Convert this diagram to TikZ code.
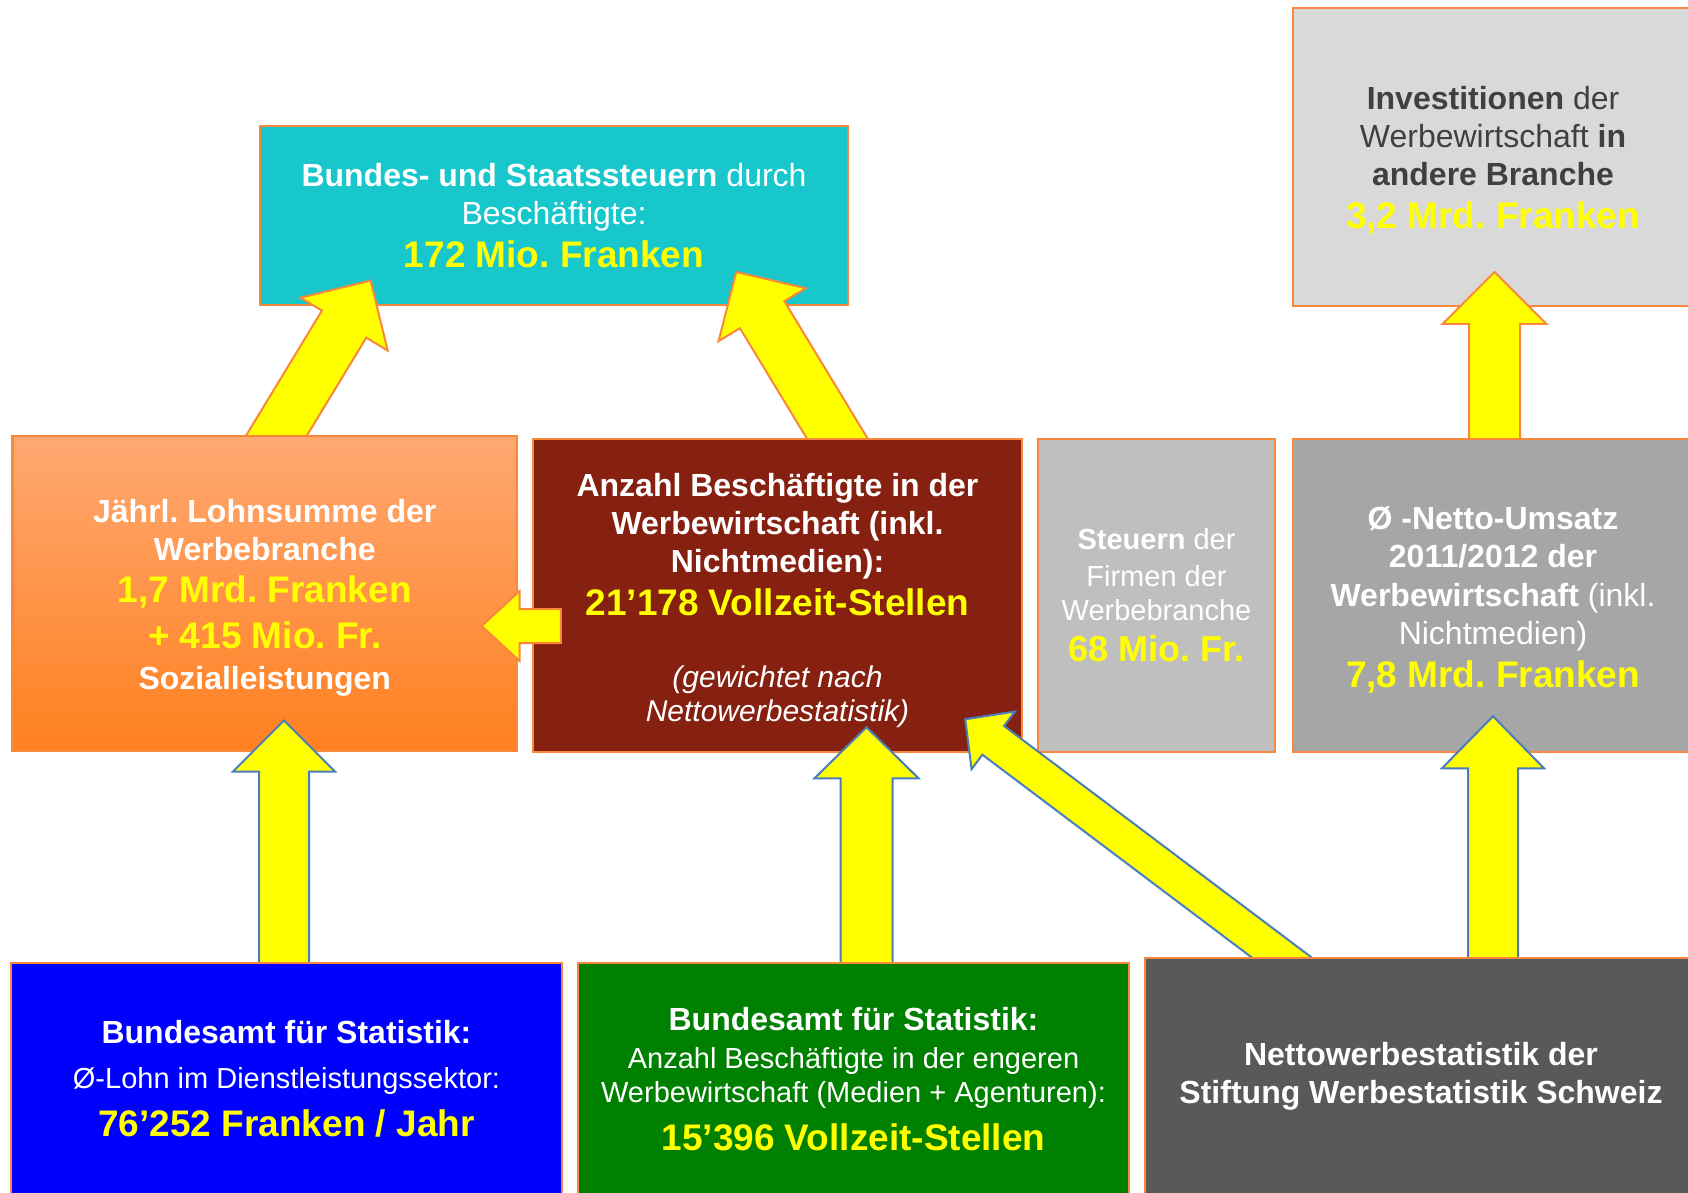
\documentclass[tikz,border=0pt]{standalone}
\usepackage{fontspec}
\setmainfont{Liberation Sans}
\usetikzlibrary{calc}
\frenchspacing
\definecolor{boxline}{HTML}{F7883C}
\definecolor{yel}{HTML}{FFFF00}
\definecolor{arrowline}{HTML}{4A7EBB}
\definecolor{steuercol}{HTML}{17C7CC}
\definecolor{investcol}{HTML}{D9D9D9}
\definecolor{investtext}{HTML}{404040}
\definecolor{lohntop}{HTML}{FFA872}
\definecolor{lohnbot}{HTML}{FF801F}
\definecolor{anzahlcol}{HTML}{862010}
\definecolor{firmencol}{HTML}{BFBFBF}
\definecolor{umsatzcol}{HTML}{A6A6A6}
\definecolor{bfsblue}{HTML}{0000FF}
\definecolor{bfsgreen}{HTML}{008000}
\definecolor{nettocol}{HTML}{595959}
\pgfdeclarelayer{back}
\pgfdeclarelayer{upper}
\pgfdeclarelayer{lower}
\pgfdeclarelayer{front}
\pgfsetlayers{back,upper,main,lower,front}
\newcommand{\amount}[2][37]{{\color{yel}\bfseries\fontsize{#1}{44}\selectfont #2}}
\newcommand{\topgap}[1]{\rule{0pt}{#1}}
\newcommand{\bigarrow}[6]{%
  \coordinate (hb) at ($(#3)!#6!(#2)$);
  \path[#1] ($(#2)!#4!90:(#3)$) -- ($(hb)!#4!90:(#3)$) -- ($(hb)!#5!90:(#3)$) -- (#3)
    -- ($(hb)!#5!-90:(#3)$) -- ($(hb)!#4!-90:(#3)$) -- ($(#2)!#4!-90:(#3)$) -- cycle;}
\begin{document}
\begin{tikzpicture}[x=1pt, y=-1pt,
    box/.style = {draw=boxline, line width=2.5pt, inner sep=0pt,
      align=center, text=white, font=\fontsize{32}{38}\selectfont},
    boldbox/.style = {box, font=\fontsize{32}{38}\selectfont\bfseries},
    orangearrow/.style = {fill=yel, draw=boxline, line width=2pt},
    bluearrow/.style = {fill=yel, draw=arrowline, line width=2pt}]
  \useasboundingbox (0,0) rectangle (1688,1192);
  \begin{pgfonlayer}{back}
    \node[box, fill=steuercol, minimum width=588pt, minimum height=179pt] (steuer) at (554,215.5)
      {{\bfseries Bundes- und Staatssteuern} durch\\ Beschäftigte:\\[5pt] \amount{172 Mio. Franken}};
    \node[box, fill=investcol, text=investtext, minimum width=400pt, minimum height=298pt] (invest) at (1493,157)
      {\topgap{30.5pt}{\bfseries Investitionen} der\\ Werbewirtschaft {\bfseries in}\\ {\bfseries andere Branche}\\[5pt] \amount{3,2 Mrd. Franken}};
  \end{pgfonlayer}
  \node[boldbox, top color=lohntop, bottom color=lohnbot, minimum width=504.5pt, minimum height=315pt] (lohn) at (264.75,593.5)
    {\topgap{31pt}Jährl. Lohnsumme der\\ Werbebranche\\[4pt] \amount{1,7 Mrd. Franken}\\[8pt] \amount{+ 415 Mio. Fr.}\\[3pt] Sozialleistungen};
  \node[boldbox, fill=anzahlcol, minimum width=489pt, minimum height=313pt] (anzahl) at (777.5,595.5)
    {\topgap{34pt}Anzahl Beschäftigte in der\\ Werbewirtschaft (inkl.\\ Nichtmedien):\\[5pt] \amount{21’178 Vollzeit-Stellen}\\[34pt]
     {\mdseries\itshape\fontsize{30}{36}\selectfont (gewichtet nach}\\[-4pt] {\mdseries\itshape\fontsize{30}{36}\selectfont Nettowerbestatistik)}};
  \node[box, fill=firmencol, font=\fontsize{29}{35}\selectfont, minimum width=237pt, minimum height=313pt] (firmen) at (1156.5,595.5)
    {{\bfseries Steuern} der\\[2pt] Firmen der\\[-1pt] Werbebranche\\[6pt] \amount[36]{68 Mio. Fr.}};
  \node[box, fill=umsatzcol, font=\fontsize{32}{38.5}\selectfont, minimum width=400pt, minimum height=313pt] (umsatz) at (1493,595.5)
    {\topgap{31.5pt}{\bfseries Ø -Netto-Umsatz}\\ {\bfseries 2011/2012 der}\\ {\bfseries Werbewirtschaft} (inkl.\\ Nichtmedien)\\[4pt] \amount{7,8 Mrd. Franken}};
  \begin{pgfonlayer}{front}
    \node[box, fill=bfsblue, minimum width=551pt, minimum height=232pt] (bfslohn) at (286.5,1079)
      {{\bfseries Bundesamt für Statistik:}\\[7pt] {\fontsize{29}{35}\selectfont Ø-Lohn im Dienstleistungssektor:}\\[10pt] \amount{76’252 Franken / Jahr}};
    \node[box, fill=bfsgreen, minimum width=551pt, minimum height=232pt] (bfsstellen) at (853.5,1079)
      {{\bfseries Bundesamt für Statistik:}\\ {\fontsize{29}{35}\selectfont Anzahl Beschäftigte in der engeren}\\[-3.5pt]
       {\fontsize{29}{35}\selectfont Werbewirtschaft (Medien + Agenturen):}\\[9.5pt] \amount{15’396 Vollzeit-Stellen}};
    \node[boldbox, fill=nettocol, minimum width=552pt, minimum height=237pt] (netto) at (1421,1076.5)
      {Nettowerbestatistik der\\ Stiftung Werbestatistik Schweiz};
  \end{pgfonlayer}
  \begin{pgfonlayer}{upper}
    \coordinate (lohn-up) at ($(lohn.north)+(-6,30)$);
    \coordinate (steuer-l) at ($(steuer.south)+(-183.4,-25.7)$);
    \coordinate (anzahl-up) at ($(anzahl.north)+(77.5,30)$);
    \coordinate (steuer-r) at ($(steuer.south)+(182.2,-34.3)$);
    \coordinate (umsatz-up) at ($(umsatz.north)+(1.5,30)$);
    \coordinate (invest-in) at ($(invest.south)+(1.5,-35.3)$);
    \bigarrow{orangearrow}{lohn-up}{steuer-l}{26pt}{51pt}{51pt}
    \bigarrow{orangearrow}{anzahl-up}{steuer-r}{26pt}{51pt}{50pt}
    \bigarrow{orangearrow}{umsatz-up}{invest-in}{25.5pt}{52pt}{52pt}
  \end{pgfonlayer}
  \begin{pgfonlayer}{lower}
    \coordinate (anzahl-left) at ($(anzahl.west)+(29,30.5)$);
    \coordinate (lohn-right) at ($(lohn.east)+(-36.6,32.5)$);
    \coordinate (bfslohn-up) at ($(bfslohn.north)+(-2.5,30)$);
    \coordinate (lohn-in) at ($(lohn.south)+(19.25,-31.7)$);
    \coordinate (bfsstellen-up) at ($(bfsstellen.north)+(13,30)$);
    \coordinate (anzahl-in) at ($(anzahl.south)+(89,-26)$);
    \coordinate (netto-up) at ($(netto.north)+(72,30)$);
    \coordinate (umsatz-in) at ($(umsatz.south)+(0,-37)$);
    \coordinate (netto-diag) at ($(netto.north)+(-100.4,30)$);
    \coordinate (anzahl-diag) at ($(anzahl.south east)+(-58,-34)$);
    \bigarrow{orangearrow}{anzahl-left}{lohn-right}{17pt}{35pt}{38pt}
    \bigarrow{bluearrow}{bfslohn-up}{lohn-in}{25pt}{51pt}{51pt}
    \bigarrow{bluearrow}{bfsstellen-up}{anzahl-in}{26pt}{52pt}{51pt}
    \bigarrow{bluearrow}{netto-up}{umsatz-in}{25pt}{51pt}{52pt}
    \bigarrow{bluearrow}{netto-diag}{anzahl-diag}{18pt}{36pt}{35pt}
  \end{pgfonlayer}
\end{tikzpicture}
\end{document}
